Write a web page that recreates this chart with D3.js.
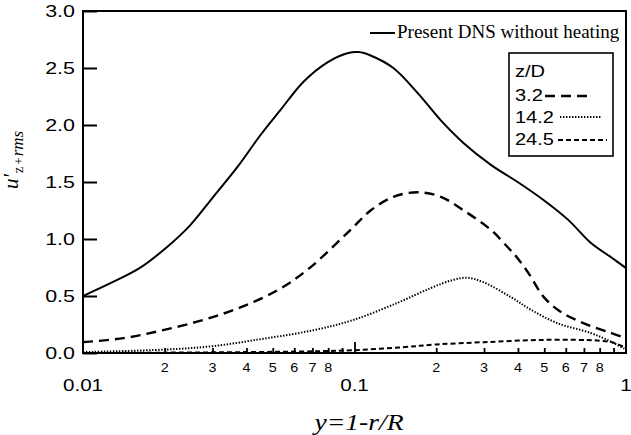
<!DOCTYPE html>
<html>
<head>
<meta charset="utf-8">
<script src="https://cdn.jsdelivr.net/npm/d3@7"></script>
<style>
  html, body { margin: 0; padding: 0; background: #fff; }
  svg { display: block; }
</style>
</head>
<body>
<svg class="chart" width="631" height="435"></svg>
<script>
// values
const noHeatX = [0.01, 0.0129, 0.0162, 0.0204, 0.0248, 0.0302, 0.037, 0.045, 0.0533, 0.0649, 0.0795, 0.0942, 0.1035, 0.1146, 0.139, 0.171, 0.208, 0.2525, 0.318, 0.399, 0.498, 0.611, 0.743, 0.881, 1.0];
const noHeatY = [0.5, 0.623, 0.746, 0.93, 1.12, 1.37, 1.63, 1.91, 2.13, 2.38, 2.55, 2.63, 2.64, 2.61, 2.5, 2.28, 2.04, 1.84, 1.65, 1.5, 1.34, 1.17, 0.965, 0.84, 0.745];

const z32X = [0.01, 0.0141, 0.0197, 0.0277, 0.038, 0.052, 0.0671, 0.0967, 0.1146, 0.139, 0.171, 0.208, 0.2525, 0.318, 0.366, 0.393, 0.42, 0.446, 0.498, 0.576, 0.7, 0.858, 1.0];
const z32Y = [0.095, 0.13, 0.2, 0.29, 0.4, 0.55, 0.73, 1.08, 1.25, 1.37, 1.41, 1.37, 1.25, 1.08, 0.93, 0.85, 0.76, 0.67, 0.49, 0.36, 0.26, 0.185, 0.13];

const z142X = [0.01, 0.02, 0.03, 0.0461, 0.0706, 0.099, 0.144, 0.191, 0.23, 0.261, 0.299, 0.377, 0.446, 0.561, 0.743, 0.88, 1.0];
const z142Y = [0.008, 0.03, 0.06, 0.125, 0.2, 0.29, 0.44, 0.57, 0.64, 0.66, 0.62, 0.49, 0.38, 0.26, 0.175, 0.1, 0.03];

const z245X = [0.01, 0.02, 0.04, 0.07, 0.1, 0.15, 0.2, 0.3, 0.5, 0.8, 0.9, 1.0];
const z245Y = [0.0, 0.003, 0.008, 0.015, 0.025, 0.05, 0.075, 0.095, 0.115, 0.108, 0.09, 0.045];

const yTicks = [0, 0.5, 1.0, 1.5, 2.0, 2.5, 3.0];
const yTickLabels = ["0.0", "0.5", "1.0", "1.5", "2.0", "2.5", "3.0"];
const xMinorTicks = [0.02, 0.03, 0.04, 0.05, 0.06, 0.07, 0.08, 0.09, 0.2, 0.3, 0.4, 0.5, 0.6, 0.7, 0.8, 0.9];
const xMinorLabels = [0.02, 0.03, 0.04, 0.05, 0.06, 0.07, 0.08, 0.2, 0.3, 0.4, 0.5, 0.6, 0.7, 0.8];
const xMajorTicks = [0.01, 0.1, 1];
const xMajorLabels = ["0.01", "0.1", "1"];

const legendNames = ["3.2", "14.2", "24.5"];

const plotLeft = 83, plotRight = 626, plotTop = 11, plotBottom = 353;
const $svg = d3.select(".chart");

const x = d3.scaleLog().domain([0.01, 1]).range([plotLeft, plotRight]);
const y = d3.scaleLinear().domain([0, 3]).range([plotBottom, plotTop]);

const sans = "'Liberation Sans', Arial, Helvetica, sans-serif";
const serif = "'Liberation Serif', 'Times New Roman', serif";

function label(g, px, py, str, size, sx, anchor, family) {
  return g.append("text")
    .attr("transform", `translate(${px},${py}) scale(${sx},1)`)
    .attr("text-anchor", anchor)
    .attr("font-family", family || sans)
    .attr("font-size", size)
    .attr("fill", "#000")
    .text(str);
}

// axes (inward ticks)
const yAxis = d3.axisLeft(y).tickValues(yTicks).tickSize(-14).tickFormat("");
const $yAxis = $svg.append("g").attr("transform", `translate(${plotLeft},0)`).call(yAxis);
$yAxis.select(".domain").remove();
$yAxis.selectAll("line").attr("stroke", "#000").attr("stroke-width", 2);

const xMinor = d3.axisBottom(x).tickValues(xMinorTicks).tickSize(-5).tickFormat("");
const $xMinor = $svg.append("g").attr("transform", `translate(0,${plotBottom})`).call(xMinor);
$xMinor.select(".domain").remove();
$xMinor.selectAll("line").attr("stroke", "#000").attr("stroke-width", 1.8);

const xMajor = d3.axisBottom(x).tickValues([0.1]).tickSize(-11).tickFormat("");
const $xMajor = $svg.append("g").attr("transform", `translate(0,${plotBottom})`).call(xMajor);
$xMajor.select(".domain").remove();
$xMajor.selectAll("line").attr("stroke", "#000").attr("stroke-width", 1.8);

// tick labels
const $labels = $svg.append("g");
yTicks.forEach((v, i) => label($labels, 75, y(v) + 6, yTickLabels[i], 16.5, 1.3, "end"));
xMinorLabels.forEach((v) => {
  const d = Math.round(v / Math.pow(10, Math.floor(Math.log10(v) + 1e-9)));
  label($labels, x(v), 372, String(d), 12.5, 1.15, "middle");
});
xMajorTicks.forEach((v, i) => label($labels, x(v), 391, xMajorLabels[i], 16.5, 1.25, "middle"));

// axis titles
label($svg, 359, 430, "y=1-r/R", 23, 1.2, "middle", serif).attr("font-style", "italic");

const $ytitle = $svg.append("text")
  .attr("transform", "translate(18,189) rotate(-90)")
  .attr("font-family", serif)
  .attr("fill", "#000");
$ytitle.append("tspan").attr("font-size", 21).attr("font-style", "italic").text("u\u2032");
$ytitle.append("tspan").attr("font-size", 14).attr("dy", 5).attr("dx", 1).text("z");
$ytitle.append("tspan").attr("font-size", 13).attr("dx", 2).text("+");
$ytitle.append("tspan").attr("font-size", 17).attr("font-style", "italic").attr("dx", 1).text("rms");

// curves
$svg.append("clipPath").attr("id", "plot-clip")
  .append("rect").attr("x", plotLeft).attr("y", plotTop)
  .attr("width", plotRight - plotLeft).attr("height", plotBottom - plotTop);

const line = d3.line()
  .x((d) => x(d[0]))
  .y((d) => y(d[1]))
  .curve(d3.curveCatmullRom.alpha(0.5));

const series = [
  { xs: noHeatX, ys: noHeatY, dash: null, w: 2 },
  { xs: z32X, ys: z32Y, dash: "10,6", w: 2.4 },
  { xs: z142X, ys: z142Y, dash: "1.4,1.6", w: 2 },
  { xs: z245X, ys: z245Y, dash: "5,3", w: 2 },
];

const $curves = $svg.append("g").attr("clip-path", "url(#plot-clip)");
series.forEach((s) => {
  $curves.append("path")
    .datum(s.xs.map((v, i) => [v, s.ys[i]]))
    .attr("d", line)
    .attr("fill", "none")
    .attr("stroke", "#000")
    .attr("stroke-width", s.w)
    .attr("stroke-dasharray", s.dash);
});

// frame
$svg.append("rect")
  .attr("x", plotLeft).attr("y", plotTop)
  .attr("width", plotRight - plotLeft).attr("height", plotBottom - plotTop)
  .attr("fill", "none").attr("stroke", "#000").attr("stroke-width", 2);

// top legend
const $legend = $svg.append("g");
$legend.append("line")
  .attr("x1", 370).attr("x2", 395).attr("y1", 33).attr("y2", 33)
  .attr("stroke", "#000").attr("stroke-width", 2);
label($legend, 397, 38, "Present DNS without heating", 19, 1, "start", serif);

// z/D box
$legend.append("rect")
  .attr("x", 509).attr("y", 53).attr("width", 104).attr("height", 103)
  .attr("fill", "#fff").attr("stroke", "#000").attr("stroke-width", 1.6);
label($legend, 515, 77, "z/D", 16, 1.25, "start");
const rows = [
  { base: 101, x1: 545, x2: 587, ly: 96 },
  { base: 123, x1: 560, x2: 602, ly: 117 },
  { base: 145, x1: 558, x2: 607, ly: 140 },
];
legendNames.forEach((name, i) => {
  const r = rows[i];
  const s = series[i + 1];
  label($legend, 515, r.base, name, 16, 1.25, "start");
  $legend.append("line")
    .attr("x1", r.x1).attr("x2", r.x2).attr("y1", r.ly).attr("y2", r.ly)
    .attr("stroke", "#000").attr("stroke-width", s.w)
    .attr("stroke-dasharray", s.dash);
});
</script>
</body>
</html>
